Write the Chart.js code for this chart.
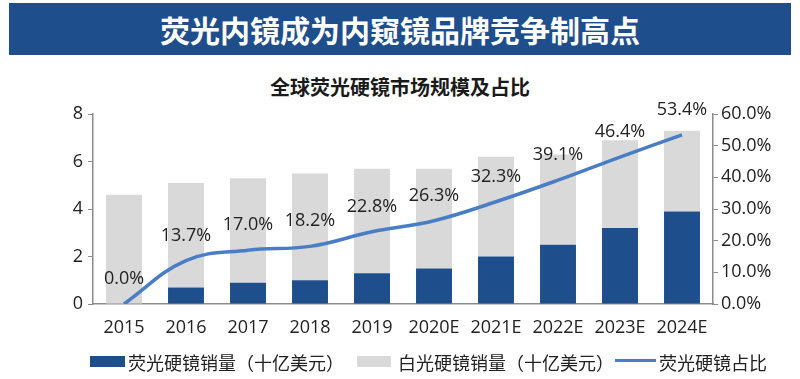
<!DOCTYPE html>
<html><head><meta charset="utf-8">
<script src="https://cdn.jsdelivr.net/npm/chart.js@4"></script>
<style>
html,body{margin:0;padding:0;background:#fff;}
body{width:800px;height:379px;position:relative;overflow:hidden;font-family:"Noto Sans CJK SC","Noto Sans",sans-serif;}
#banner{position:absolute;left:9px;top:3px;width:782px;height:52px;background:#1F4E8C;color:#fff;font:bold 30px "Noto Sans CJK SC";display:flex;align-items:center;justify-content:center;}
#sub{position:absolute;left:0;width:800px;top:72px;line-height:28px;text-align:center;font:bold 20px "Noto Sans CJK SC";color:#1a1a1a;}
#c{position:absolute;left:0;top:0;}
.lg{position:absolute;}
.lt{position:absolute;top:349px;line-height:24px;font:18px "Noto Sans CJK SC";color:#222;white-space:nowrap;}
</style>
</head><body>
<div id="banner">荧光内镜成为内窥镜品牌竞争制高点</div>
<div id="sub">全球荧光硬镜市场规模及占比</div>
<canvas id="c" width="800" height="379"></canvas>
<div class="lg" style="left:90px;top:356px;width:35px;height:11px;background:#1F4E8C"></div>
<div class="lt" style="left:128px">荧光硬镜销量（十亿美元）</div>
<div class="lg" style="left:357px;top:356px;width:34px;height:11px;background:#D9D9D9"></div>
<div class="lt" style="left:398px">白光硬镜销量（十亿美元）</div>
<div class="lg" style="left:615px;top:359px;width:41px;height:3px;background:#4A7EC4"></div>
<div class="lt" style="left:659px">荧光硬镜占比</div>
<script>
const categories = ["2015","2016","2017","2018","2019","2020E","2021E","2022E","2023E","2024E"];
const fluorescentSales = [0, 0.7, 0.9, 1.0, 1.3, 1.5, 2.0, 2.5, 3.2, 3.9];
const whiteLightSales = [4.6, 4.4, 4.4, 4.5, 4.4, 4.2, 4.2, 3.8, 3.7, 3.4];
const fluorescentShare = [0.0, 13.7, 17.0, 18.2, 22.8, 26.3, 32.3, 39.1, 46.4, 53.4];
const leftTicks = [0, 2, 4, 6, 8];
const rightTicks = [0, 10, 20, 30, 40, 50, 60];

const labelPlugin = {
  id: 'shareLabels',
  afterDatasetsDraw(chart) {
    const ctx = chart.ctx;
    const meta = chart.getDatasetMeta(0);
    ctx.save();
    ctx.font = '18px "Open Sans"';
    ctx.fillStyle = '#222';
    ctx.textAlign = 'center';
    ctx.textBaseline = 'middle';
    meta.data.forEach((el, i) => {
      ctx.fillText(fluorescentShare[i].toFixed(1) + '%', el.x, el.y - 25);
    });
    ctx.restore();
  }
};

new Chart(document.getElementById('c'), {
  type: 'bar',
  data: {
    labels: categories,
    datasets: [
      {
        type: 'line',
        label: '荧光硬镜占比',
        data: fluorescentShare,
        yAxisID: 'y1',
        borderColor: '#4A7EC4',
        borderWidth: 3.5,
        tension: 0.4,
        pointRadius: 0,
        fill: false,
        order: 0
      },
      {
        label: '荧光硬镜销量（十亿美元）',
        data: fluorescentSales,
        backgroundColor: '#1F4E8C',
        stack: 's',
        yAxisID: 'y',
        barPercentage: 0.58,
        categoryPercentage: 1.0,
        order: 1
      },
      {
        label: '白光硬镜销量（十亿美元）',
        data: whiteLightSales,
        backgroundColor: '#D9D9D9',
        stack: 's',
        yAxisID: 'y',
        barPercentage: 0.58,
        categoryPercentage: 1.0,
        order: 2
      }
    ]
  },
  options: {
    responsive: false,
    devicePixelRatio: 1,
    animation: false,
    layout: { padding: { top: 114, bottom: 45, left: 0, right: 0 } },
    plugins: { legend: { display: false }, tooltip: { enabled: false }, title: { display: false } },
    scales: {
      x: {
        stacked: true,
        afterFit(s) { s.height = 30; },
        grid: { drawOnChartArea: false, drawTicks: false },
        border: { color: '#8C8C8C', width: 1.5 },
        ticks: { padding: 13, color: '#222', font: { family: 'Open Sans', size: 18 }, maxRotation: 0, autoSkip: false }
      },
      y: {
        stacked: true,
        position: 'left',
        min: 0, max: 8,
        afterFit(s) { s.width = 93; },
        afterBuildTicks(s) { s.ticks = leftTicks.map(v => ({ value: v })); },
        grid: { drawOnChartArea: false, tickLength: 5, color: '#8C8C8C' },
        border: { color: '#8C8C8C', width: 1.5 },
        ticks: { padding: 5, color: '#222', font: { family: 'Open Sans', size: 18 } }
      },
      y1: {
        position: 'right',
        min: 0, max: 60,
        afterFit(s) { s.width = 87; },
        afterBuildTicks(s) { s.ticks = rightTicks.map(v => ({ value: v })); },
        grid: { drawOnChartArea: false, tickLength: 5, color: '#8C8C8C' },
        border: { color: '#8C8C8C', width: 1.5 },
        ticks: { padding: 3, color: '#222', font: { family: 'Open Sans', size: 18 }, callback: v => Number(v).toFixed(1) + '%' }
      }
    }
  },
  plugins: [labelPlugin]
});
</script>
</body></html>
